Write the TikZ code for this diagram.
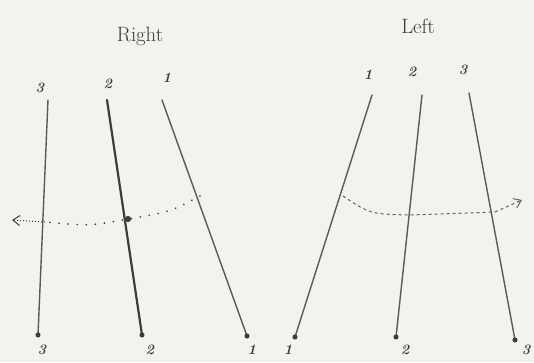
\documentclass[tikz,border=0pt]{standalone}
\usetikzlibrary{positioning, arrows.meta}
\definecolor{paper}{HTML}{F2F2EE}
\definecolor{pencil}{HTML}{5A5A5A}
\definecolor{inkdark}{HTML}{3C3C3C}

\begin{document}
\begin{tikzpicture}[
    x=1pt, y=-1pt,
    >={Straight Barb[length=7pt, width=10pt]},
    leg/.style={line width=1.4pt, pencil, line cap=round},
    num/.style={font=\itshape\bfseries\Large, text=inkdark},
    title/.style={font=\huge, text=inkdark},
    foot/.style={circle, fill=inkdark, inner sep=1.8pt},
    swing/.style={line width=1.8pt, inkdark, line cap=round,
                  dash pattern=on 0.1pt off 9pt},
]
\useasboundingbox[fill=paper] (0,0) rectangle (534,362);

% Titles
\node[title] (right) at (140,36) {Right};
\node[title] (left) at (418,26) {Left};

% Right group: top and bottom ends
\coordinate (r3t) at (48,100);  \coordinate (r3b) at (38,335);
\coordinate (r2t) at (107,100); \coordinate (r2b) at (142,335);
\coordinate (r1t) at (162,100); \coordinate (r1b) at (247,336);

% Left group: top and bottom ends
\coordinate (l1t) at (372,95);  \coordinate (l1b) at (295,337);
\coordinate (l2t) at (422,95);  \coordinate (l2b) at (396,337);
\coordinate (l3t) at (469,93);  \coordinate (l3b) at (515,340);

% Legs
\draw[leg] (r3t) -- (r3b);
\draw[leg, line width=2.2pt, inkdark] (r2t) -- (r2b);
\draw[leg] (r1t) -- (r1b);
\draw[leg] (l1t) -- (l1b);
\draw[leg] (l2t) -- (l2b);
\draw[leg] (l3t) -- (l3b);

% Feet
\foreach \p in {r3b, r2b, r1b, l1b, l2b, l3b}
    \node[foot] at (\p) {};

% Numbers at the top
\node[num] (n3) at (40,88) {3};
\node[num] (n2) at (108,84) {2};
\node[num] (n1) at (167,78) {1};
\node[num] (m1) at (368,75) {1};
\node[num] (m2) at (412,72) {2};
\node[num] (m3) at (463,70) {3};

% Numbers at the bottom
\node[num] (b3) at (42,350) {3};
\node[num] (b2) at (150,350) {2};
\node[num] (b1) at (252,350) {1};
\node[num] (c1) at (288,350) {1};
\node[num] (c2) at (405,350) {2};
\node[num] (c3) at (526,350) {3};

% Swing across the right group
\coordinate (rs1) at (200,196);
\coordinate (rs2) at (128,219);
\coordinate (rs3) at (45,222);
\coordinate (rend) at (12,220);
\draw[swing] (rs1) .. controls (170,212) .. (rs2)
    .. controls (90,226) .. (rs3);
\draw[line width=1pt, inkdark, dotted, ->] (rs3) -- (rend);
\node[foot, inner sep=2.2pt] at (rs2) {};

% Swing across the left group
\coordinate (ls1) at (343,196);
\coordinate (ls2) at (410,215);
\coordinate (ls3) at (495,212);
\coordinate (lend) at (522,200);
\draw[inkdark!80, dashed, line width=1pt] (ls1) .. controls (370,214) .. (ls2)
    -- (ls3);
\draw[inkdark!80, dashed, line width=1pt, ->] (ls3) -- (lend);

\end{tikzpicture}
\end{document}
